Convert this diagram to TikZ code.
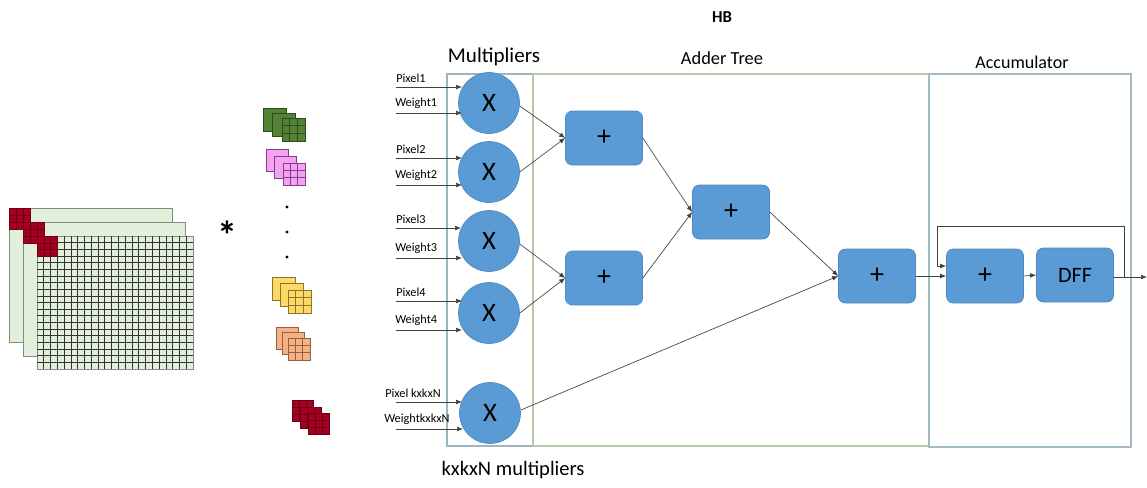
\documentclass[tikz,border=0pt]{standalone}
\usepackage{fontspec}
\setmainfont{Carlito}
\usetikzlibrary{arrows.meta}

\definecolor{unitblue}{HTML}{5B9BD5}
\definecolor{unitedge}{HTML}{4F89BF}
\definecolor{multframe}{HTML}{9FB5C0}
\definecolor{addframe}{HTML}{B2CBA6}
\definecolor{accframe}{HTML}{A4BAC2}
\definecolor{sheetfill}{HTML}{E2EFDA}
\definecolor{sheetedge}{HTML}{7F8F7F}
\definecolor{patchred}{HTML}{A50021}
\definecolor{patchline}{HTML}{6A0015}
\definecolor{kgreen}{HTML}{548235}
\definecolor{kgreenedge}{HTML}{2E4A1E}
\definecolor{kpink}{HTML}{F4A3F4}
\definecolor{kpinkedge}{HTML}{8A3C8A}
\definecolor{kyellow}{HTML}{FFD966}
\definecolor{kyellowedge}{HTML}{8C7435}
\definecolor{korange}{HTML}{F4B183}
\definecolor{korangeedge}{HTML}{94603F}

% one kernel slice: x, y (top-left), size, fill, edge, 3x3 grid (1) or plain (0)
\newcommand\kersq[6]{%
  \filldraw[fill=#4,draw=#5,line width=0.6pt] (#1,#2) rectangle ++(#3,#3);
  \ifnum#6=1
    \draw[draw=#5,line width=0.6pt]
      ({#1+#3/3},#2) -- ++(0,#3) ({#1+2*#3/3},#2) -- ++(0,#3)
      (#1,{#2+#3/3}) -- ++(#3,0) (#1,{#2+2*#3/3}) -- ++(#3,0);
  \fi}

% a 3x3 red window on a feature-map sheet: x, y (top-left), cell size
\newcommand\redpatch[3]{%
  \fill[patchred] (#1,#2) rectangle ++({3*#3},{3*#3});
  \draw[patchline,line width=0.4pt]
    ({#1+#3},#2) -- ++(0,{3*#3}) ({#1+2*#3},#2) -- ++(0,{3*#3})
    (#1,{#2+#3}) -- ++({3*#3},0) (#1,{#2+2*#3}) -- ++({3*#3},0);
  \draw[patchred!70!black,line width=0.4pt] (#1,#2) rectangle ++({3*#3},{3*#3});}

\begin{document}
\begin{tikzpicture}[x=0.75pt,y=-0.75pt,
  mult/.style={circle,fill=unitblue,draw=unitedge,line width=0.5pt,
    minimum size={61*0.75pt},inner sep=0pt,font=\fontsize{20}{20}\selectfont},
  adder/.style={rectangle,rounded corners=5pt,fill=unitblue,draw=unitedge,line width=0.5pt,
    minimum width={77*0.75pt},minimum height={54*0.75pt},inner sep=0pt,
    font=\fontsize{21}{21}\selectfont},
  wire/.style={draw=black!75,line width=0.5pt},
  arr/.style={wire,-{Latex[length=4.5pt,width=3.6pt]}},
  inlabel/.style={anchor=west,inner sep=0pt,font=\fontsize{9.2}{10}\selectfont},
  title/.style={inner sep=0pt,font=\fontsize{13.8}{14}\selectfont},
  sheet/.style={fill=sheetfill,draw=sheetedge,line width=0.6pt}
]
\useasboundingbox (0,0) rectangle (1147,487);

% ---------------- input feature maps ----------------
\filldraw[sheet] (9,208) rectangle (172,342);
\redpatch{9}{208}{7}
\filldraw[sheet] (23,222) rectangle (185,356);
\redpatch{23}{222}{7}
\filldraw[sheet] (37,236) rectangle (193,369);
\foreach \i in {1,...,22}
  \draw[black!80,line width=0.5pt] ({37+\i*156/23},236) -- ++(0,133);
\foreach \j in {1,...,19}
  \draw[black!80,line width=0.5pt] (37,{236+\j*133/20}) -- ++(156,0);
\redpatch{37}{236}{6.8}

\node[inner sep=0pt,font=\bfseries\fontsize{30}{30}\selectfont] (conv) at (227,235) {*};

% ---------------- kernels ----------------
\kersq{263}{108}{23}{kgreen}{kgreenedge}{0}
\kersq{272}{113}{23}{kgreen}{kgreenedge}{0}
\kersq{282}{118}{23}{kgreen}{kgreenedge}{1}

\kersq{266}{149}{22}{kpink}{kpinkedge}{0}
\kersq{274}{156}{22}{kpink}{kpinkedge}{0}
\kersq{283}{163}{22}{kpink}{kpinkedge}{1}

\foreach \yy in {207,232,257} \fill (287,\yy) circle (1.6);

\kersq{272}{277}{23}{kyellow}{kyellowedge}{0}
\kersq{280}{283}{23}{kyellow}{kyellowedge}{0}
\kersq{288}{290}{23}{kyellow}{kyellowedge}{1}

\kersq{276}{327}{22}{korange}{korangeedge}{0}
\kersq{282}{332}{22}{korange}{korangeedge}{0}
\kersq{288}{338}{22}{korange}{korangeedge}{1}

\kersq{292}{400}{21}{patchred}{patchline}{1}
\kersq{300}{407}{21}{patchred}{patchline}{1}
\kersq{308}{413}{21}{patchred}{patchline}{1}

% ---------------- stage frames ----------------
\draw[multframe,line width=0.8pt] (447,74) rectangle (533,446);
\draw[addframe,line width=0.8pt] (533,74) rectangle (929,446);
\draw[accframe,line width=0.8pt] (929,74) rectangle (1131,447);

\node[inner sep=0pt,font=\bfseries\fontsize{12.5}{13}\selectfont] (hb) at (722,17) {HB};
\node[inner sep=0pt,font=\fontsize{15.8}{16}\selectfont] (tmult) at (494,57) {Multipliers};
\node[title] (tadd) at (722,58) {Adder Tree};
\node[inner sep=0pt,font=\fontsize{13.5}{14}\selectfont] (tacc) at (1022,62) {Accumulator};
\node[inner sep=0pt,font=\fontsize{15.4}{16}\selectfont] (tcount) at (513,470) {kxkxN multipliers};

% ---------------- multipliers ----------------
\node[mult] (m1) at (489,103) {X};
\node[mult] (m2) at (489,172) {X};
\node[mult] (m3) at (489,241) {X};
\node[mult] (m4) at (489,313) {X};
\node[mult] (m5) at (490,413) {X};

% operand inputs
\foreach \n/\yp/\yw/\pl/\wl in {1/87/113/Pixel1/Weight1, 2/158/185/Pixel2/Weight2,
    3/228/258/Pixel3/Weight3, 4/301/330/Pixel4/Weight4}{
  \coordinate (p\n) at (396,\yp);
  \coordinate (w\n) at (396,\yw);
  \node[inlabel] (lp\n) at (396,{\yp-9}) {\pl};
  \node[inlabel] (lw\n) at (395,{\yw-10}) {\wl};
}
\coordinate (p5) at (396,402);
\coordinate (w5) at (396,429);
\node[inlabel] (lp5) at (385,393) {Pixel kxkxN};
\node[inlabel] (lw5) at (384,419) {WeightkxkxN};

\draw[arr] (p1) -- (462,87);
\draw[arr] (w1) -- (462,113);
\draw[arr] (p2) -- (462,158);
\draw[arr] (w2) -- (462,185);
\draw[arr] (p3) -- (461,228);
\draw[arr] (w3) -- (462,258);
\draw[arr] (p4) -- (462,301);
\draw[arr] (w4) -- (462,330);
\draw[arr] (p5) -- (462,402);
\draw[arr] (w5) -- (463,429);

% ---------------- adder tree ----------------
\node[adder] (a1) at (604,138) {+};
\node[adder] (a2) at (604,278) {+};
\node[adder] (a3) at (731,212) {+};
\node[adder] (a4) at (877,276) {+};

\draw[arr] (m1.east) ++(0,3) -- (a1.west);
\draw[arr] (m2.east) -- (a1.west);
\draw[arr] (m3.east) ++(0,3) -- (a2.west);
\draw[arr] (m4.east) -- (a2.west);
\draw[arr] (a1.east) -- (a3.west);
\draw[arr] (a2.east) -- (a3.west);
\draw[arr] (a3.east) -- (a4.west);
\draw[arr] (m5.east) ++(0,-3) -- (a4.west);

% ---------------- accumulator ----------------
\node[adder] (acc) at (985,276) {+};
\node[adder,font=\fontsize{16.5}{17}\selectfont] (dff) at (1075,275) {DFF};
\coordinate (out) at (1147,277);
\coordinate (fbr) at (1124,226);
\coordinate (fbl) at (937,226);

\draw[arr] (a4.east) -- (acc.west);
\draw[arr] (acc.east) -- (dff.west);
\draw[arr] (dff.east |- out) -- (out);
\draw[arr] (1124,277) -- (fbr) -- (fbl) -- (937,266) -- (acc.west |- 0,266);
\end{tikzpicture}
\end{document}
